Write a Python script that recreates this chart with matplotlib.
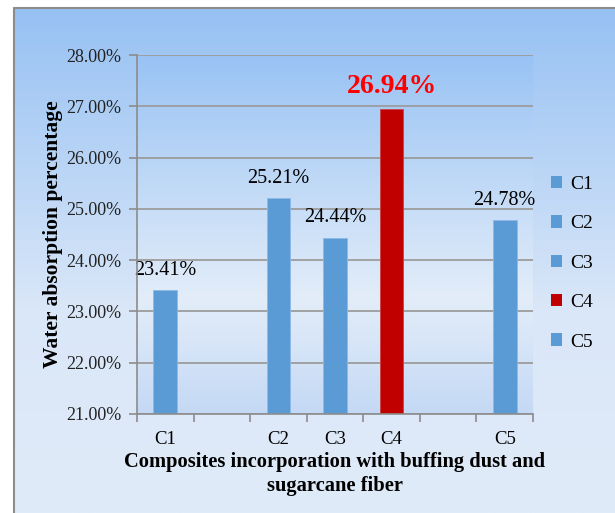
import numpy as np
import matplotlib.pyplot as plt
from matplotlib.colors import LinearSegmentedColormap
from matplotlib.ticker import FuncFormatter

# Data (slots 2 and 6 are empty category positions in the original chart)
composites = ['C1', 'C2', 'C3', 'C4', 'C5']
slots = [0, 2, 3, 4, 6]
absorption = [23.41, 25.21, 24.44, 26.94, 24.78]
bar_colors = ['#5B9BD5', '#5B9BD5', '#5B9BD5', '#C00000', '#5B9BD5']
n_slots = 7

plt.rcParams['font.family'] = ['Liberation Serif', 'DejaVu Serif']

fig = plt.figure(figsize=(6.15, 5.13), dpi=100)
W, H = 615, 513

# figure background: white strip + gradient frame
bg = fig.add_axes([0, 0, 1, 1], zorder=-10)
bg.set_xlim(0, W)
bg.set_ylim(H, 0)
bg.axis('off')
fig_cmap = LinearSegmentedColormap.from_list(
    'figbg', [(0, '#96C1F3'), (0.6, '#DAE7F8'), (1, '#E0EBF9')])
grad = np.linspace(0, 1, 256).reshape(-1, 1)
bg.imshow(grad, cmap=fig_cmap, extent=[13, W, H, 7], aspect='auto')
bg.plot([13.5, 13.5, W], [H, 7.5, 7.5], color='#8C8C8C', lw=1.5)

ax = fig.add_axes([137 / W, 1 - 414 / H, (533 - 137) / W, (414 - 55) / H])
ax.patch.set_alpha(0)
plot_cmap = LinearSegmentedColormap.from_list(
    'plotbg', [(0, '#99C3F4'), (0.68, '#E3EDF9'), (1, '#C4D9F5')])
ax.imshow(grad, cmap=plot_cmap, extent=[0, 1, 0, 1], aspect='auto',
          transform=ax.transAxes, zorder=0)

for s, v, c, name in zip(slots, absorption, bar_colors, composites):
    ax.bar(s, v - 21, bottom=21, width=0.42, color=c,
           edgecolor='#8DB8E8' if c != '#C00000' else '#D04040',
           linewidth=0.6, label=name, zorder=3)
    if name == 'C4':
        ax.text(s, v + 0.2, f'{v:.2f}%', ha='center', va='bottom', color='#FF0000',
                fontsize=20, fontweight='bold', zorder=4)
    else:
        ax.text(s, v + 0.2, f'{v:.2f}%', ha='center', va='bottom', color='black',
                fontsize=14.5, zorder=4)

ax.set_xlim(-0.5, n_slots - 0.5)
ax.set_ylim(21, 28)
ax.set_yticks(np.arange(21, 28.01, 1))
ax.yaxis.set_major_formatter(FuncFormatter(lambda y, _: f'{y:.2f}%'))
ax.set_xticks(np.arange(-0.5, n_slots, 1))
ax.set_xticklabels([])
ax.set_xticks(slots, minor=True)
ax.set_xticklabels(composites, minor=True)
ax.tick_params(axis='x', which='minor', length=0, pad=12, labelsize=13.5)
ax.tick_params(axis='x', which='major', length=6, color='#8C8C8C', width=1.2)
ax.tick_params(axis='y', length=6, color='#8C8C8C', width=1.2, labelsize=13,
               labelcolor='#222222', pad=5.5)
ax.grid(axis='y', color='#9C9C9C', linewidth=1.3, zorder=1)
ax.set_axisbelow(True)
for sp in ['top', 'right']:
    ax.spines[sp].set_visible(False)
for sp in ['left', 'bottom']:
    ax.spines[sp].set_color('#8C8C8C')
    ax.spines[sp].set_linewidth(1.2)
    ax.spines[sp].set_zorder(5)

ax.set_ylabel('Water absorption percentage', fontsize=15.5, fontweight='bold', labelpad=2)
ax.set_xlabel('Composites incorporation with buffing dust and\nsugarcane fiber',
              fontsize=14.8, fontweight='bold', labelpad=3, linespacing=1.25)

leg = ax.legend(loc='center left', bbox_to_anchor=(1.0, 0.42), frameon=False,
                fontsize=14, handlelength=0.6, handleheight=0.6, handletextpad=0.4,
                labelspacing=1.15)
for h in leg.legend_handles:
    h.set_edgecolor('none')

fig.savefig('out.png', dpi=100)
